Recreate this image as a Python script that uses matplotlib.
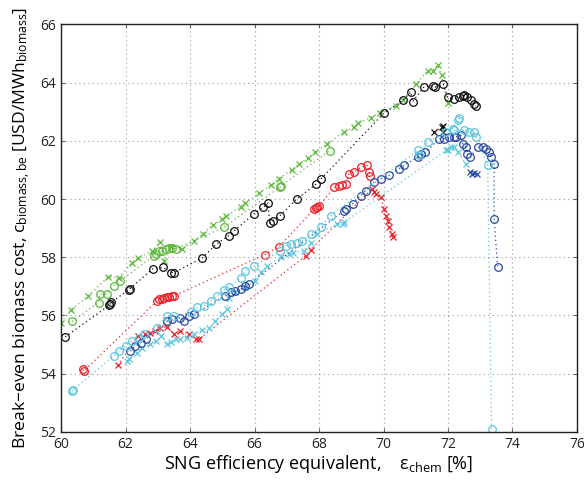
import matplotlib
matplotlib.use("Agg")
import matplotlib.pyplot as plt

plt.rcParams['font.family'] = ['Open Sans', 'DejaVu Sans']
plt.rcParams['mathtext.fontset'] = 'custom'
plt.rcParams['mathtext.rm'] = 'Open Sans'
plt.rcParams['mathtext.it'] = 'Open Sans'

GREEN = "#5cb83c"
BLACK = "#111111"
RED = "#ec2027"
BLUE = "#2a4aa6"
CYAN = "#5cc6df"

# green crosses
green_x_eff = [60.0, 60.3, 60.83, 61.47, 61.79, 62.2, 62.38, 62.83, 63.08, 63.19, 63.4, 63.76,
               64.12, 64.4, 64.7, 65.0, 65.13, 65.57, 65.72, 66.14, 66.5, 66.75, 67.15, 67.37,
               67.65, 67.87, 68.26, 68.76, 69.08, 69.2, 69.6, 69.9, 70.4, 70.6, 71.0, 71.37,
               71.52, 71.68, 71.8, 71.99]
green_x_cost = [55.75, 56.18, 56.65, 57.33, 57.3, 57.8, 57.97, 58.22, 58.51, 57.88, 58.34, 58.28,
                58.57, 58.8, 59.1, 59.3, 59.4, 59.74, 59.86, 60.2, 60.47, 60.7, 61.0, 61.2,
                61.4, 61.6, 61.9, 62.3, 62.47, 62.6, 62.8, 62.96, 63.2, 63.4, 63.95, 64.4,
                64.4, 64.6, 64.26, 63.3]

# green circles
green_o_eff = [60.34, 61.17, 61.2, 61.43, 61.63, 61.84, 62.88, 62.95, 63.05, 63.14, 63.25, 63.35,
               63.45, 63.55, 65.05, 66.78, 66.82, 68.33]
green_o_cost = [55.79, 56.44, 56.73, 56.73, 57.02, 57.19, 58.05, 58.1, 58.2, 58.22, 58.28, 58.3,
                58.32, 58.28, 59.03, 60.4, 60.45, 61.66]

# black circles
black_o_eff = [60.13, 61.5, 61.53, 61.56, 62.1, 62.14, 62.84, 63.17, 63.4, 63.5, 64.38, 64.82,
               65.2, 65.36, 65.98, 66.27, 66.42, 66.47, 66.58, 66.79, 67.31, 67.92, 68.07, 70.0,
               70.6, 70.85, 70.9, 71.26, 71.52, 71.6, 71.85, 71.99, 72.2, 72.35, 72.45, 72.5,
               72.6, 72.7, 72.8, 72.87]
black_o_cost = [55.26, 56.35, 56.4, 56.45, 56.88, 56.92, 57.6, 57.65, 57.47, 57.47, 57.97, 58.45,
                58.74, 58.9, 59.49, 59.72, 59.86, 59.17, 59.26, 59.43, 60.0, 60.52, 60.7, 62.94,
                63.4, 63.68, 63.34, 63.86, 63.9, 63.85, 63.94, 63.5, 63.45, 63.5, 63.55, 63.57,
                63.5, 63.4, 63.28, 63.19]

# black crosses
black_x_eff = [71.57, 71.8, 71.83, 71.86]
black_x_cost = [62.3, 62.48, 62.3, 62.5]

# red circles
red_o_eff = [60.68, 60.7, 62.98, 63.05, 63.12, 63.2, 63.28, 63.36, 63.44, 63.5, 66.32, 66.76,
             67.85, 67.9, 67.95, 68.0, 68.47, 68.62, 68.72, 68.83, 68.93, 69.09, 69.3, 69.5,
             69.55, 69.58]
red_o_cost = [54.14, 54.08, 56.5, 56.55, 56.57, 56.6, 56.62, 56.64, 56.66, 56.67, 58.09, 58.36,
              59.65, 59.68, 59.72, 59.75, 60.4, 60.45, 60.48, 60.52, 60.87, 60.92, 61.1, 61.16,
              60.92, 60.78]

# red crosses
red_x_eff = [61.76, 62.4, 62.6, 62.77, 62.9, 63.08, 63.3, 63.5, 63.7, 63.96, 64.17, 64.27,
             67.59, 67.74, 69.65, 69.7, 69.76, 69.92, 70.02, 70.07, 70.14, 70.17, 70.25, 70.28]
red_x_cost = [54.28, 55.3, 55.35, 55.4, 55.45, 55.58, 55.6, 55.35, 55.47, 55.35, 55.2, 55.18,
              58.05, 58.26, 60.36, 60.25, 60.18, 60.06, 59.66, 59.43, 59.26, 59.03, 58.8, 58.68]

# blue circles
blue_o_eff = [62.15, 62.3, 62.47, 62.62, 63.29, 63.45, 63.7, 63.81, 63.96, 64.12, 65.1, 65.26,
              65.41, 65.57, 65.72, 65.83, 68.77, 68.83, 69.04, 69.3, 69.45, 69.71, 69.92, 70.17,
              70.48, 70.64, 71.06, 71.16, 71.3, 71.73, 71.88, 72.04, 72.2, 72.25, 72.4, 72.45,
              72.56, 72.6, 72.69, 72.92, 73.07, 73.18, 73.28, 73.33, 73.43, 73.43, 73.54]
blue_o_cost = [54.78, 54.95, 55.06, 55.18, 55.8, 55.87, 55.92, 55.81, 55.98, 56.04, 56.67, 56.79,
               56.84, 56.9, 57.02, 57.08, 59.6, 59.66, 59.83, 60.12, 60.29, 60.58, 60.7, 60.81,
               61.04, 61.16, 61.44, 61.56, 61.6, 62.08, 62.08, 62.13, 62.13, 62.13, 62.19, 61.9,
               61.79, 61.56, 61.44, 61.79, 61.79, 61.73, 61.61, 61.44, 61.21, 59.32, 57.65]

# blue crosses
blue_x_eff = [72.68, 72.74, 72.81, 72.9]
blue_x_cost = [60.92, 60.87, 60.9, 60.86]

# cyan circles
cyan_o_eff = [60.34, 60.38, 61.63, 61.79, 62.0, 62.2, 62.41, 62.57, 62.98, 63.29, 63.5, 64.02,
              64.22, 64.43, 64.64, 64.84, 65.05, 65.2, 65.57, 65.72, 65.98, 66.8, 66.97, 67.12,
              67.33, 67.48, 67.74, 68.05, 68.36, 71.06, 71.1, 71.37, 71.94, 72.14, 72.3, 72.35,
              72.2, 72.5, 72.66, 72.81, 72.87, 73.23, 73.35]
cyan_o_cost = [53.4, 53.45, 54.6, 54.78, 54.95, 55.12, 55.23, 55.35, 55.58, 55.98, 55.98, 56.1,
               56.27, 56.33, 56.5, 56.67, 56.87, 56.96, 57.3, 57.53, 57.7, 58.22, 58.4, 58.45,
               58.5, 58.57, 58.8, 59.03, 59.43, 61.67, 61.5, 61.96, 62.3, 62.42, 62.7, 62.77,
               62.36, 62.36, 62.3, 62.3, 62.13, 61.16, 52.1]

# cyan crosses
cyan_x_eff = [62.05, 62.1, 62.36, 62.52, 62.77, 62.93, 63.1, 63.29, 63.4, 63.55, 63.7, 63.91,
              64.12, 64.38, 64.58, 64.79, 65.0, 65.15, 65.2, 65.41, 65.72, 66.03, 66.19, 66.4,
              66.81, 67.07, 67.2, 67.53, 67.74, 67.95, 68.57, 68.73, 68.78, 71.94, 71.99, 72.09,
              72.2, 72.3, 72.56]
cyan_x_cost = [54.43, 54.5, 54.72, 54.89, 55.0, 55.12, 55.3, 55.01, 55.1, 55.18, 55.2, 55.23,
               55.35, 55.49, 55.58, 55.81, 56.04, 56.21, 56.61, 56.79, 56.96, 57.19, 57.48, 57.71,
               58.0, 58.1, 58.16, 58.22, 58.5, 58.8, 59.14, 59.14, 59.2, 61.67, 61.67, 61.79,
               61.79, 61.61, 61.21]

series = [
    (green_x_eff, green_x_cost, GREEN, "x"),
    (green_o_eff, green_o_cost, GREEN, "o"),
    (black_o_eff, black_o_cost, BLACK, "o"),
    (black_x_eff, black_x_cost, BLACK, "x"),
    (red_o_eff, red_o_cost, RED, "o"),
    (red_x_eff, red_x_cost, RED, "x"),
    (cyan_x_eff, cyan_x_cost, CYAN, "x"),
    (blue_o_eff, blue_o_cost, BLUE, "o"),
    (blue_x_eff, blue_x_cost, BLUE, "x"),
    (cyan_o_eff, cyan_o_cost, CYAN, "o"),
]

fig = plt.figure(figsize=(5.84, 4.88), dpi=100)
ax = fig.add_axes([0.1045, 0.1154, 0.8835, 0.8344])

for xs, ys, col, mk in series:
    ax.plot(xs, ys, linestyle=(0, (1, 2.4)), linewidth=0.9, color=col,
            marker=mk, markersize=5.5 if mk == "o" else 4.5, markerfacecolor="none",
            markeredgecolor=col, markeredgewidth=0.9)

ax.set_xlim(60, 76)
ax.set_ylim(52, 66)
ax.set_xticks(range(60, 77, 2))
ax.set_yticks(range(52, 67, 2))
ax.grid(True, color="#999999", linestyle=(0, (1, 3)), linewidth=0.8)
ax.tick_params(direction="in", length=3, labelsize=10, top=True, right=True,
               color="#666666", labelcolor="#222222")
for sp in ax.spines.values():
    sp.set_linewidth(1.0)
    sp.set_color("#222222")

ax.set_xlabel(r"SNG efficiency equivalent,    $\varepsilon_{\mathrm{chem}}$ [%]",
              fontsize=13, labelpad=1)
ax.set_ylabel(r"Break$-$even biomass cost, $\mathrm{c_{biomass,be}}$ [USD/MWh$_{\mathrm{biomass}}$]",
              fontsize=12.6, labelpad=5)

fig.savefig("out.png", dpi=100)
